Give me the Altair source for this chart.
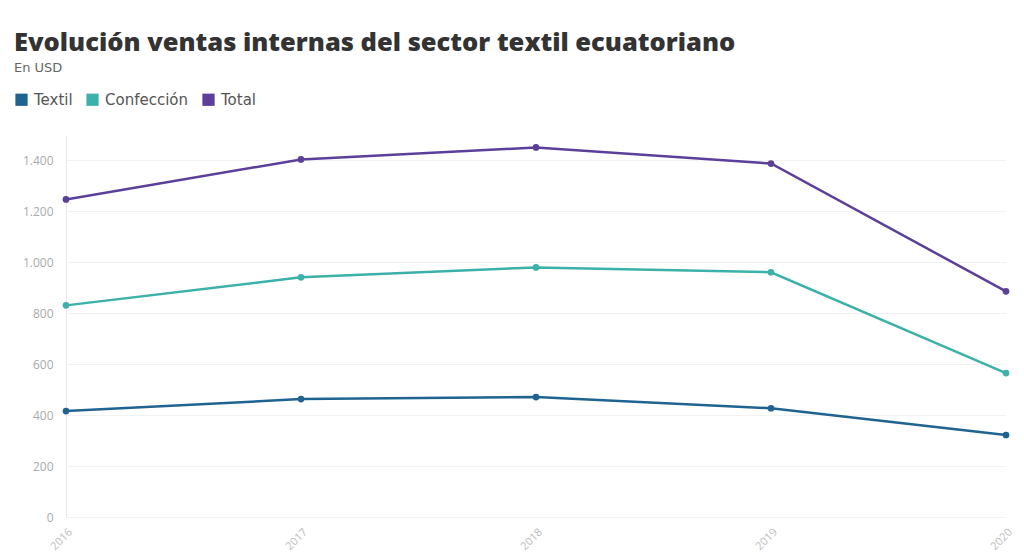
import altair as alt
import pandas as pd

years = ["2016", "2017", "2018", "2019", "2020"]
textil = [416, 463, 471, 427, 322]
confeccion = [831, 941, 980, 961, 565]
total = [1247, 1404, 1451, 1388, 886]
series_names = ["Textil", "Confección", "Total"]
colors = ["#1f6390", "#3cb1a9", "#5b3f99"]

rows = []
for name, vals in zip(series_names, [textil, confeccion, total]):
    for y, v in zip(years, vals):
        rows.append({"year": y, "serie": name, "value": v})
df = pd.DataFrame(rows)

color = alt.Color(
    "serie:N",
    scale=alt.Scale(domain=series_names, range=colors),
    sort=series_names,
    legend=alt.Legend(
        orient="none", legendX=-52, legendY=-43, direction="horizontal",
        title=None, symbolType="square", symbolSize=150, symbolStrokeWidth=0,
        labelFont="DejaVu Sans", labelFontSize=15, labelColor="#555",
        columnPadding=12, labelOffset=5,
    ),
)

x = alt.X("year:O", sort=years, scale=alt.Scale(type="point", padding=0),
          axis=alt.Axis(title=None, labelAngle=-45, labelAlign="right", labelBaseline="top",
                        labelColor="#bbb", labelFontSize=11,
                        labelFont="Open Sans", ticks=False, domain=False, grid=False,
                        labelPadding=9))
y = alt.Y("value:Q", scale=alt.Scale(domain=[0, 1500], nice=False),
          axis=alt.Axis(title=None, values=[0, 200, 400, 600, 800, 1000, 1200, 1400],
                        labelExpr="replace(format(datum.value, ','), ',', '.')",
                        labelColor="#aaa", labelFontSize=12, labelFont="Open Sans",
                        ticks=False, domain=True, domainColor="#e6e6ee", gridColor="#f2f2f2",
                        labelPadding=13))

base = alt.Chart(df).encode(x=x, y=y, color=color)
lines = base.mark_line(strokeWidth=2.5)
points = base.mark_circle(size=45, opacity=1)

chart = (lines + points).properties(
    width=940, height=382,
    autosize=alt.AutoSizeParams(type="none"),
    padding={"left": 58, "top": 127, "right": 10, "bottom": 35},
    title=alt.TitleParams(
        "Evolución ventas internas del sector textil ecuatoriano",
        subtitle="En USD", anchor="start", frame="group", dx=-52, offset=17,
        font="Open Sans", fontSize=25.5, fontWeight=800, color="#333",
        subtitleFont="DejaVu Sans", subtitleFontSize=13, subtitleColor="#666",
        subtitlePadding=6,
    ),
).configure(background="white").configure_view(strokeWidth=0)

chart.save("out.html", embed_options={"renderer": "svg", "actions": False})
